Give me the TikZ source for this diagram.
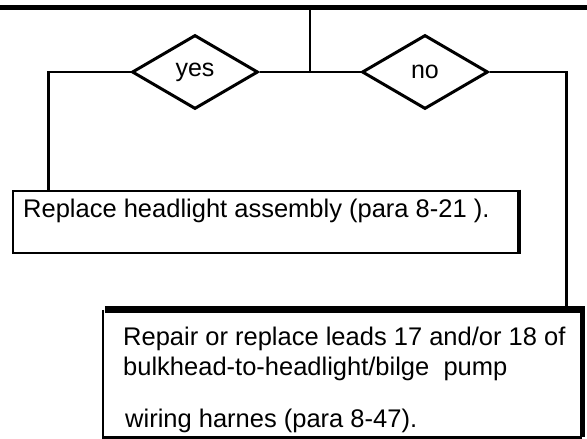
\documentclass[tikz,border=0pt]{standalone}
\usepackage{fontspec}
\setmainfont{Liberation Sans}
\usetikzlibrary{shapes.geometric}
\begin{document}
\begin{tikzpicture}[x=1pt,y=-1pt,
  conn/.style={line width=2.6pt},
  dia/.style={diamond,draw,line width=3pt,inner sep=0pt,minimum width=126pt,minimum height=74pt,font=\fontsize{25}{30}\selectfont},
  boxfr/.style={rectangle,inner sep=0pt},
  txt/.style={anchor=base west,inner sep=0pt,font=\fontsize{25.5}{30}\selectfont}]
\useasboundingbox (0,0) rectangle (587,439);
% top rule
\coordinate (tl) at (0,7);
\coordinate (tr) at (587,7);
\coordinate (topc) at (310,7);
\draw[line width=5pt] (tl) -- (tr);
% decisions
\node[dia] (yes) at (195,72) {yes};
\node[dia] (no) at (425,72) {no};
% boxes
\node[boxfr,draw,line width=2.6pt,minimum width=505pt,minimum height=62pt] (box1) at (265.5,222) {};
\draw[line width=4pt] (box1.north east) -- (box1.south east);
\node[boxfr,minimum width=479pt,minimum height=127pt] (box2) at (342.5,373.5) {};
\draw[line width=7pt] ([xshift=2pt]box2.north west) -- ([xshift=3pt]box2.north east);
\draw[line width=5pt] (box2.north east) -- (box2.south east);
\draw[line width=2.6pt] (box2.north west) -- (box2.south west) -- (box2.south east);
% texts
\node[txt] (t1) at (23,217) {Replace headlight assembly (para 8-21 ).};
\node[txt] (t2) at (123,345) {Repair or replace leads 17 and/or 18 of};
\node[txt] (t3) at (123,375) {bulkhead-to-headlight/bilge\ \ pump};
\node[txt] (t4) at (125,427) {wiring harnes (para 8-47).};
% connectors
\draw[conn] (topc) -- (topc |- yes.east);
\draw[conn] (yes.east) -- (no.west);
\draw[conn] (yes.west) -| ([xshift=37pt]box1.north west);
\draw[conn] (no.east) -| ([xshift=-16pt]box2.north east);
\end{tikzpicture}
\end{document}
